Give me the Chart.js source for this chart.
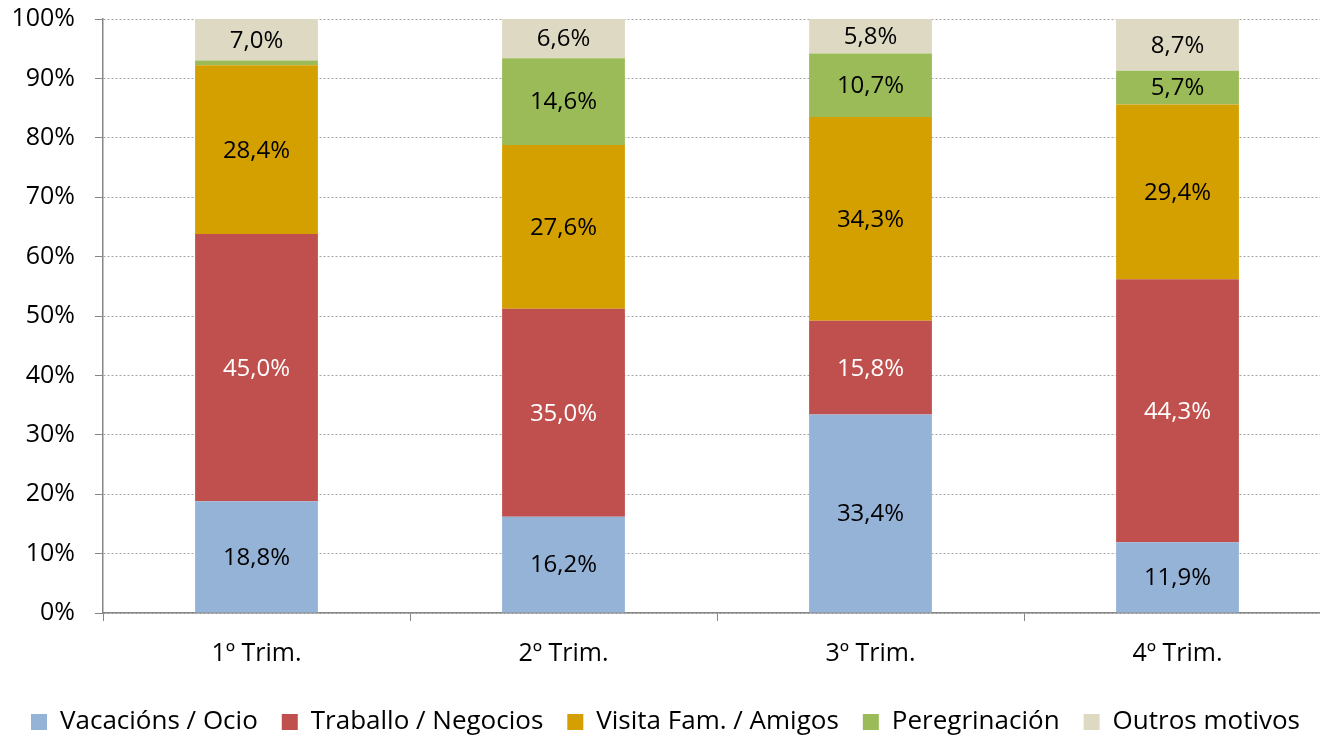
<!DOCTYPE html>
<html>
<head>
<meta charset="utf-8">
<script src="https://cdn.jsdelivr.net/npm/chart.js@4"></script>
<style>
  html, body { margin: 0; padding: 0; background: #fff; overflow: hidden; }
  #wrap { width: 1334px; height: 737px; }
</style>
</head>
<body>
<div id="wrap"><canvas id="motivos-chart"></canvas></div>
<script>
const quarters = ['1º Trim.', '2º Trim.', '3º Trim.', '4º Trim.'];
const vacacions = [18.8, 16.2, 33.4, 11.9];
const traballo = [45.0, 35.0, 15.8, 44.3];
const visita = [28.4, 27.6, 34.3, 29.4];
const peregrinacion = [0.8, 14.6, 10.7, 5.7];
const outros = [7.0, 6.6, 5.8, 8.7];

const font = "'Open Sans', 'DejaVu Sans', sans-serif";

// labels drawn in the middle of each segment
const segmentLabels = {
    id: 'segmentLabels',
    afterDatasetsDraw(chart) {
        const ctx = chart.ctx;
        ctx.save();
        ctx.font = '24px ' + font;
        ctx.textAlign = 'center';
        ctx.textBaseline = 'middle';
        chart.data.datasets.forEach((ds, i) => {
            chart.getDatasetMeta(i).data.forEach((bar, j) => {
                const v = ds.data[j];
                if (v < 3) return;
                ctx.fillStyle = i === 1 ? '#ffffff' : '#000000';
                ctx.fillText(v.toFixed(1).replace('.', ',') + '%', bar.x, (bar.y + bar.base) / 2 + 1);
            });
        });
        ctx.restore();
    }
};

const ctxEl = document.getElementById('motivos-chart');

new Chart(ctxEl, {
    type: 'bar',
    data: {
        labels: quarters,
        datasets: [
            { label: 'Vacacións / Ocio', data: vacacions, backgroundColor: '#95B3D7' },
            { label: 'Traballo / Negocios', data: traballo, backgroundColor: '#C0504D' },
            { label: 'Visita Fam. / Amigos', data: visita, backgroundColor: '#D4A000' },
            { label: 'Peregrinación', data: peregrinacion, backgroundColor: '#9BBB59' },
            { label: 'Outros motivos', data: outros, backgroundColor: '#DDD9C3' }
        ]
    },
    options: {
        responsive: true,
        maintainAspectRatio: false,
        animation: false,
        categoryPercentage: 1,
        barPercentage: 0.4,
        layout: { padding: { top: 0, right: 3, left: 0, bottom: -8 } },
        plugins: {
            tooltip: { enabled: false },
            legend: {
                position: 'bottom',
                labels: {
                    boxWidth: 16,
                    boxHeight: 16,
                    padding: 24,
                    color: '#000',
                    font: { family: font, size: 26 }
                }
            }
        },
        scales: {
            x: {
                stacked: true,
                afterFit: s => { s.height = 72; },
                grid: { offset: true, drawOnChartArea: false, color: '#868686', tickLength: 8 },
                border: { color: '#868686', width: 1.5 },
                ticks: { color: '#000', padding: 18, font: { family: font, size: 25 } }
            },
            y: {
                stacked: true,
                min: 0,
                max: 100,
                afterFit: s => { s.width = 103; s.paddingTop = 19; s.paddingBottom = 0; },
                grid: { color: '#a6a6a6', tickColor: '#868686', tickLength: 8 },
                border: { color: '#868686', width: 1.5, dash: [2, 2] },
                ticks: {
                    stepSize: 10,
                    color: '#000',
                    padding: 20,
                    font: { family: font, size: 25 },
                    callback: v => v + '%'
                }
            }
        }
    },
    plugins: [segmentLabels]
});
</script>
</body>
</html>
